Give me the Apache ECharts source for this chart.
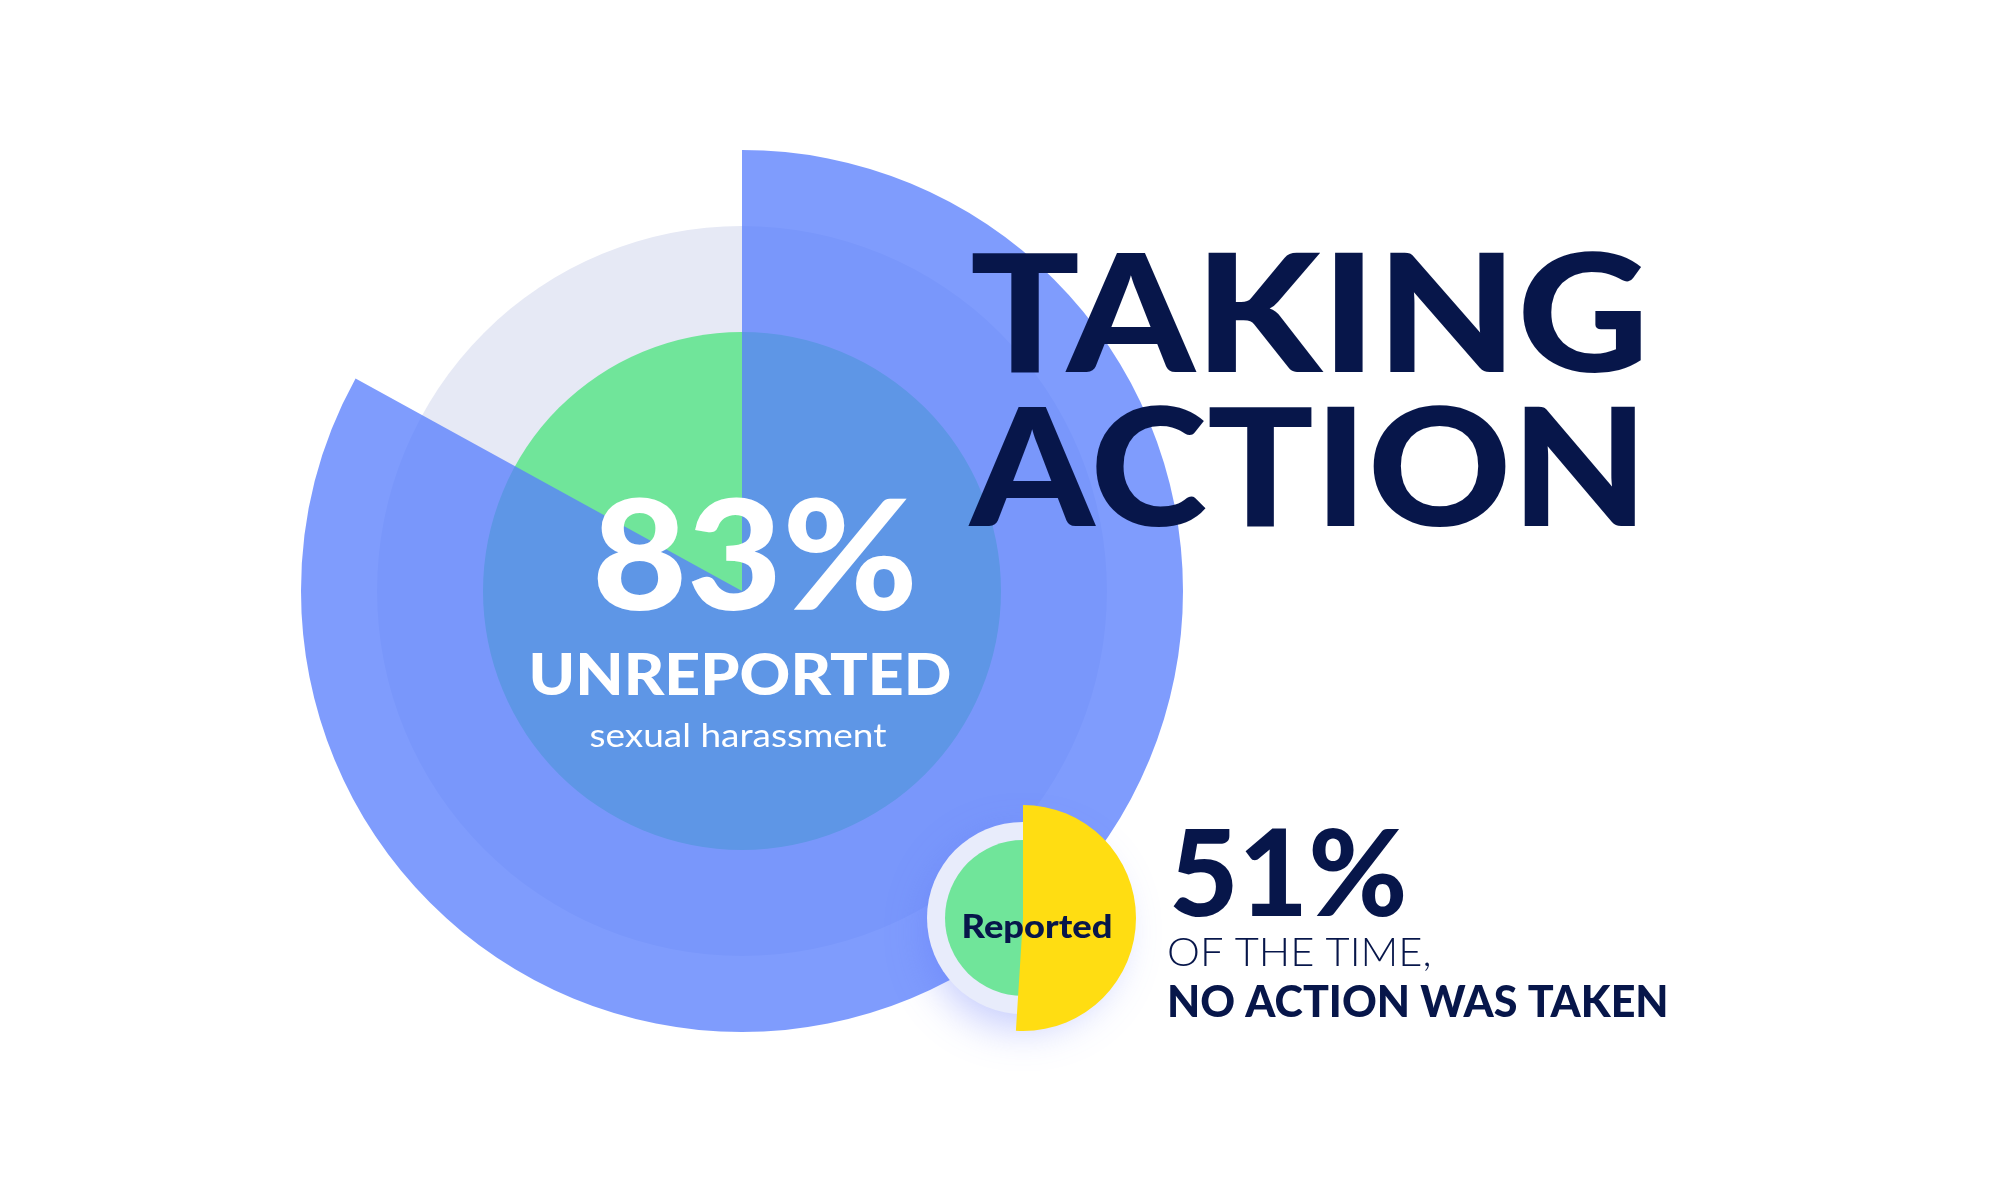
<!DOCTYPE html>
<html>
<head>
<meta charset="utf-8">
<script src="https://cdn.jsdelivr.net/npm/echarts@6/dist/echarts.min.js"></script>
<style>
  html, body { margin: 0; padding: 0; background: #fff; }
  #main { width: 2000px; height: 1200px; }
</style>
</head>
<body>
<div id="main"></div>
<script>
// share of sexual harassment that goes unreported / reported
var reportCategories = ['Unreported', 'Reported'];
var reportValues = [83, 17];
// of the reported cases: no action taken / action taken
var actionCategories = ['No action', 'Action'];
var actionValues = [51, 49];

var navy = '#07164a';
var font = 'Lato, "Noto Sans", sans-serif';
var bigCenter = [742, 591];
var smallCenter = [1023, 918];

var chart = echarts.init(document.getElementById('main'));

function disk(center, r, style) {
    return {
        type: 'pie',
        center: center,
        radius: [0, r],
        silent: true,
        label: { show: false },
        labelLine: { show: false },
        itemStyle: style,
        data: [{ value: 1 }]
    };
}

function sector(center, r, names, values, color) {
    return {
        type: 'pie',
        center: center,
        radius: [0, r],
        startAngle: 90,
        clockwise: true,
        silent: true,
        label: { show: false },
        labelLine: { show: false },
        data: [
            { name: names[0], value: values[0], itemStyle: { color: color } },
            { name: names[1], value: values[1], itemStyle: { color: 'rgba(0,0,0,0)' } }
        ]
    };
}

function txt(x, y, text, color, f, align, sx) {
    return {
        type: 'text', z: 100, x: x, y: y, scaleX: sx || 1,
        style: { text: text, fill: color, font: f, align: align || 'left', verticalAlign: 'middle' }
    };
}

chart.setOption({
    backgroundColor: '#ffffff',
    animation: false,
    series: [
        disk(bigCenter, 365, { color: '#e6e9f5' }),
        disk(bigCenter, 259, { color: '#70e59a' }),
        sector(bigCenter, 441, reportCategories, reportValues, 'rgba(89,126,252,0.77)'),
        disk(smallCenter, 96, {
            color: '#e8ecfb',
            shadowBlur: 40,
            shadowOffsetY: 14,
            shadowColor: 'rgba(90,110,250,0.35)'
        }),
        disk(smallCenter, 78, { color: '#70e59a' }),
        sector(smallCenter, 113, actionCategories, actionValues, '#ffdd12')
    ],
    graphic: [
        txt(970, 319, 'TAKING', navy, '900 164px ' + font, 'left', 1.11),
        txt(970, 473, 'ACTION', navy, '900 164px ' + font, 'left', 1.08),
        txt(755, 561, reportValues[0] + '%', '#fff', '900 152px ' + font, 'center', 1.08),
        txt(740, 676, 'UNREPORTED', '#fff', '900 58px ' + font, 'center', 1.08),
        txt(738, 736, 'sexual harassment', '#fff', '400 33px ' + font, 'center', 1.12),
        txt(1037, 927, 'Reported', navy, '900 33px ' + font, 'center', 1.1),
        txt(1169, 877, actionValues[0] + '%', navy, '900 120px ' + font, 'left', 1.0),
        txt(1167, 953, 'OF THE TIME,', navy, '300 40px ' + font, 'left', 1.04),
        txt(1167, 1003, 'NO ACTION WAS TAKEN', navy, '900 43px ' + font, 'left', 1.0)
    ]
});
</script>
</body>
</html>
